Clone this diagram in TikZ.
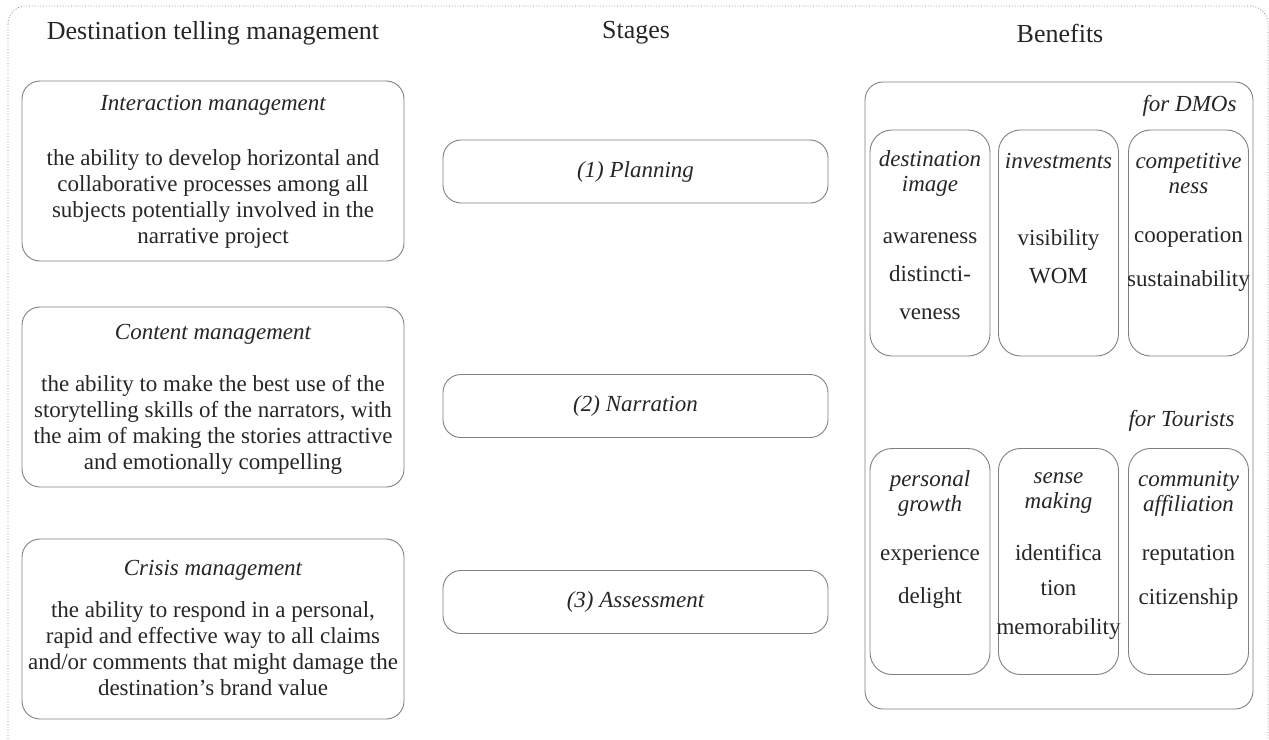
\documentclass[tikz,border=0pt]{standalone}
\usepackage{fontspec}
\setmainfont{Liberation Serif}
\usetikzlibrary{positioning}

\begin{document}
\begin{tikzpicture}[
    x = 1pt, y = -1pt,
    font = \fontsize{23}{26}\selectfont,
    text = black!85,
    box/.style  = {draw=black!50, line width=0.9pt, rounded corners=18pt},
    card/.style = {draw=black!50, line width=0.9pt, rounded corners=22pt,
                   minimum width=120pt, minimum height=226pt},
    stage/.style = {box, minimum width=385pt, minimum height=63pt,
                    font=\fontsize{23}{26}\selectfont\itshape},
    head/.style = {font=\fontsize{23}{25}\selectfont\itshape, align=center},
    body/.style = {align=center},
    title/.style = {font=\fontsize{26}{30}\selectfont}
]

\useasboundingbox (0,0) rectangle (1269,739);
\clip (0,0) rectangle (1269,739);

% Outer frame
\draw[black!50, line width=0.8pt, dotted, rounded corners=18pt] (8,6) rectangle (1268,760);

% Column headings
\node[title] (hdest)  at (213,33)  {Destination telling management};
\node[title] (hstage) at (636,33)  {Stages};
\node[title] (hben)   at (1060,33) {Benefits};

% Management boxes
\node[box, minimum width=382pt, minimum height=180pt] (interact) at (213,171) {};
\node[head] (interactT) at (213,105) {Interaction management};
\node[body] (interactB) at (213,199) {the ability to develop horizontal and\\
    collaborative processes among all\\
    subjects potentially involved in the\\
    narrative project};

\node[box, minimum width=382pt, minimum height=180pt] (content) at (213,397) {};
\node[head] (contentT) at (213,334) {Content management};
\node[body] (contentB) at (213,425) {the ability to make the best use of the\\
    storytelling skills of the narrators, with\\
    the aim of making the stories attractive\\
    and emotionally compelling};

\node[box, minimum width=382pt, minimum height=180pt] (crisis) at (213,629) {};
\node[head] (crisisT) at (213,570) {Crisis management};
\node[body] (crisisB) at (213,649) {the ability to respond in a personal,\\
    rapid and effective way to all claims\\
    and/or comments that might damage the\\
    destination's brand value};

% Stages
\node[stage] (plan)   at (635.5,171.5) {(1) Planning};
\node[stage] (narr)   at (635.5,406)   {(2) Narration};
\node[stage] (assess) at (635.5,602)   {(3) Assessment};

% Benefits frame
\node[box, minimum width=388pt, minimum height=627pt] (ben) at (1059,395.5) {};
\node[head, anchor=east] (dmo)  at (1240,106) {for DMOs};
\node[head, anchor=east] (tour) at (1238,421) {for Tourists};

% Benefits for DMOs
\node[card] (image)  at (930,243)    {};
\node[card] (invest) at (1058.5,243) {};
\node[card] (compet) at (1188.5,243) {};

\node[head] (imageT)  at (930,173.5)    {destination\\image};
\node[head] (investT) at (1058.5,161)   {investments};
\node[head] (competT) at (1188.5,173.5) {competitive\\ness};

\node[body] (imageB)  at (930,276)    {awareness\\[12pt]distincti-\\[12pt]veness};
\node[body] (investB) at (1058.5,257) {visibility\\[12pt]WOM};
\node[body] (competB) at (1188.5,259) {cooperation\\[18pt]sustainability};

% Benefits for tourists
\node[card] (growth) at (930,561.5)    {};
\node[card] (sense)  at (1058.5,561.5) {};
\node[card] (comm)   at (1188.5,561.5) {};

\node[head] (growthT) at (930,493.5)    {personal\\growth};
\node[head] (senseT)  at (1058.5,493.5) {sense\\making};
\node[head] (commT)   at (1188.5,493.5) {community\\affiliation};

\node[body] (growthB) at (930,576.5)    {experience\\[17pt]delight};
\node[body] (senseB)  at (1058.5,592)   {identifica\\[9pt]tion\\[13pt]memorability};
\node[body] (commB)   at (1188.5,577)   {reputation\\[18pt]citizenship};

\end{tikzpicture}
\end{document}
